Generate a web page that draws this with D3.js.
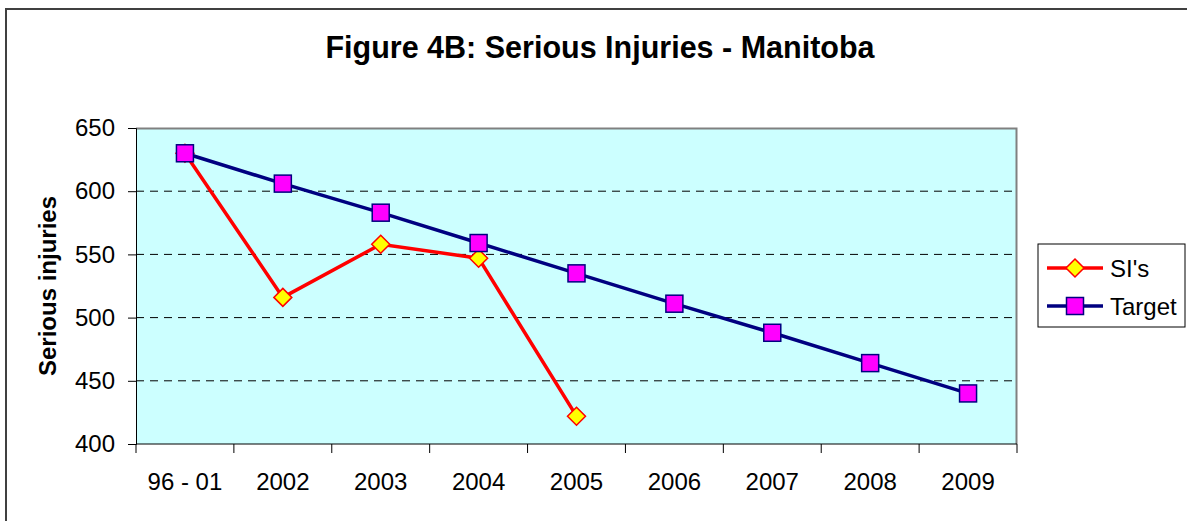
<!DOCTYPE html>
<html lang="en">
  <head>
    <meta charset="utf-8">
    <script src="https://cdn.jsdelivr.net/npm/d3@7"></script>
    <style>
      body{ margin:0; background:#fff; }
      svg{ display:block; font-family:"Liberation Sans", Arial, sans-serif; }
    </style>
  </head>
  <body>
    <svg></svg>
  </body>
  <script>
    var years = ['96 - 01','2002','2003','2004','2005','2006','2007','2008','2009'];
    var siValues = [630, 516, 558, 547, 422];
    var targetValues = [630, 606, 583, 559, 535, 511, 488, 464, 440];
    var yTicks = [400, 450, 500, 550, 600, 650];

    var svgwidth = 1187, svgheight = 521;
    var svg = d3.select('svg').attr('width', svgwidth).attr('height', svgheight);

    var margins = { top:128, bottom:77, left:136, right:170 };
    var width = svgwidth - margins.left - margins.right;
    var height = svgheight - margins.top - margins.bottom;

    // outer chart frame (runs off the right and bottom)
    svg.append('rect')
       .attr('x', 6).attr('y', 9)
       .attr('width', 1300).attr('height', 600)
       .attr('fill', 'none')
       .attr('stroke', '#404040')
       .attr('stroke-width', 2);

    svg.append('text')
       .attr('x', 600).attr('y', 58)
       .attr('text-anchor', 'middle')
       .attr('font-size', 30.5).attr('font-weight', 'bold')
       .text('Figure 4B: Serious Injuries - Manitoba');

    var xScale = d3.scaleBand().domain(years).range([0, width]);
    var yScale = d3.scaleLinear().domain([400, 650]).range([height, 0]);

    var plot = svg.append('g')
                  .attr('transform', 'translate(' + margins.left + ',' + margins.top + ')');

    plot.append('rect')
        .attr('width', width).attr('height', height)
        .attr('fill', '#ccffff');

    // gridlines
    plot.selectAll('.grid')
        .data(yTicks.filter(function(d){ return d > 400 && d < 650; }))
        .enter().append('line')
        .attr('x1', 0).attr('x2', width)
        .attr('y1', function(d){ return yScale(d); })
        .attr('y2', function(d){ return yScale(d); })
        .attr('stroke', '#000')
        .attr('stroke-width', 1)
        .attr('stroke-dasharray', '8,6');

    // top and right border of plot area
    plot.append('path')
        .attr('d', 'M0,0.5H' + (width - 0.5) + 'V' + height)
        .attr('fill', 'none')
        .attr('stroke', '#808080')
        .attr('stroke-width', 2);

    var yAxis = d3.axisLeft(yScale).tickValues(yTicks).tickSize(8).tickPadding(13);
    var gy = plot.append('g').call(yAxis);
    gy.attr('font-size', null).attr('font-family', null);
    gy.select('.domain').attr('stroke', '#000');
    gy.selectAll('text').attr('font-size', 24).attr('fill', '#000');

    var gx = plot.append('g').attr('transform', 'translate(0,' + height + ')');
    gx.append('line').attr('x1', 0).attr('x2', width).attr('stroke', '#000');
    gx.selectAll('.tick')
      .data(d3.range(years.length + 1))
      .enter().append('line')
      .attr('x1', function(i){ return i * xScale.step(); })
      .attr('x2', function(i){ return i * xScale.step(); })
      .attr('y1', 0).attr('y2', 9)
      .attr('stroke', '#000');
    gx.selectAll('.lbl')
      .data(years)
      .enter().append('text')
      .attr('x', function(d){ return xScale(d) + xScale.bandwidth() / 2; })
      .attr('y', 46)
      .attr('text-anchor', 'middle')
      .attr('font-size', 24)
      .text(function(d){ return d; });

    svg.append('text')
       .attr('transform', 'translate(56,' + (margins.top + height / 2) + ') rotate(-90)')
       .attr('text-anchor', 'middle')
       .attr('font-size', 24).attr('font-weight', 'bold')
       .text('Serious injuries');

    var cx = function(d, i){ return xScale(years[i]) + xScale.bandwidth() / 2; };
    var line = d3.line().x(cx).y(function(d){ return yScale(d); });
    var diamond = 'M0,-9L9,0L0,9L-9,0Z';

    // SI's first, Target drawn on top
    plot.append('path').datum(siValues)
        .attr('d', line).attr('fill', 'none')
        .attr('stroke', '#ff0000').attr('stroke-width', 3.5);

    plot.selectAll('.dm').data(siValues)
        .enter().append('path')
        .attr('d', diamond)
        .attr('transform', function(d, i){ return 'translate(' + cx(d, i) + ',' + yScale(d) + ')'; })
        .attr('fill', '#ffff00').attr('stroke', '#ff0000').attr('stroke-width', 1.5);

    plot.append('path').datum(targetValues)
        .attr('d', line).attr('fill', 'none')
        .attr('stroke', '#000080').attr('stroke-width', 3.5);

    plot.selectAll('.sq').data(targetValues)
        .enter().append('rect')
        .attr('x', function(d, i){ return cx(d, i) - 8.5; })
        .attr('y', function(d){ return yScale(d) - 8.5; })
        .attr('width', 17).attr('height', 17)
        .attr('fill', '#ff00ff').attr('stroke', '#000080').attr('stroke-width', 1.5);

    // legend
    var legend = svg.append('g').attr('transform', 'translate(1038,244)');
    legend.append('rect')
          .attr('width', 147).attr('height', 83)
          .attr('fill', '#fff').attr('stroke', '#000').attr('stroke-width', 1);

    var items = [
      { name:"SI's", color:'#ff0000', marker:'diamond' },
      { name:'Target', color:'#000080', marker:'square' }
    ];
    var li = legend.selectAll('.li').data(items).enter().append('g')
                   .attr('transform', function(d, i){ return 'translate(0,' + (24 + i * 38) + ')'; });
    li.append('line').attr('x1', 9).attr('x2', 65)
      .attr('stroke', function(d){ return d.color; }).attr('stroke-width', 3.5);
    li.each(function(d){
      var g = d3.select(this);
      if (d.marker === 'diamond') {
        g.append('path').attr('d', diamond).attr('transform', 'translate(37,0)')
         .attr('fill', '#ffff00').attr('stroke', '#ff0000').attr('stroke-width', 1.5);
      } else {
        g.append('rect').attr('x', 28.5).attr('y', -8.5).attr('width', 17).attr('height', 17)
         .attr('fill', '#ff00ff').attr('stroke', '#000080').attr('stroke-width', 1.5);
      }
    });
    li.append('text').attr('x', 72).attr('y', 9)
      .attr('font-size', 24)
      .text(function(d){ return d.name; });
  </script>
</html>
